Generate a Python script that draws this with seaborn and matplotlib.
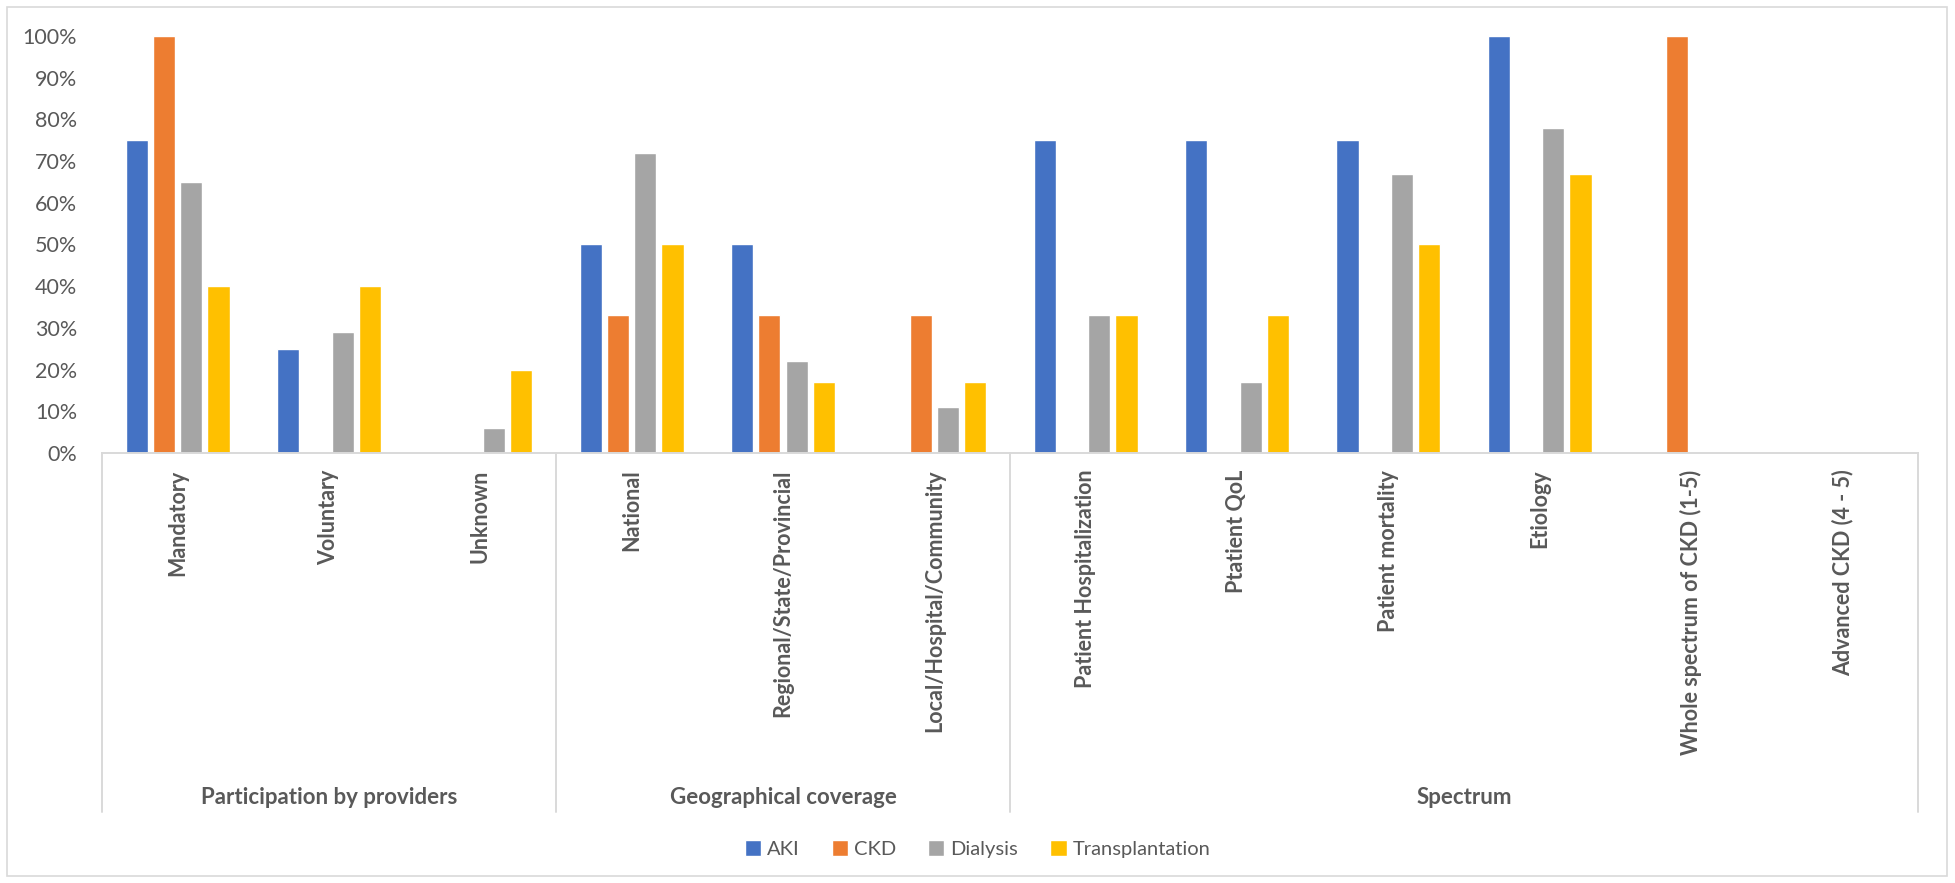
import matplotlib
matplotlib.use("Agg")
import matplotlib.pyplot as plt
import seaborn as sns
import pandas as pd
from matplotlib.ticker import PercentFormatter, MultipleLocator
from matplotlib.transforms import blended_transform_factory
from matplotlib.patches import Rectangle
from matplotlib.lines import Line2D

categories = ["Mandatory", "Voluntary", "Unknown",
              "National", "Regional/State/Provincial", "Local/Hospital/Community",
              "Patient Hospitalization", "Ptatient QoL", "Patient mortality",
              "Etiology", "Whole spectrum of CKD (1-5)", "Advanced CKD (4 - 5)"]
groups = ["Participation by providers", "Geographical coverage", "Spectrum"]
group_sizes = [3, 3, 6]
series = ["AKI", "CKD", "Dialysis", "Transplantation"]
aki = [75, 25, 0, 50, 50, 0, 75, 75, 75, 100, 0, 0]
ckd = [100, 0, 0, 33, 33, 33, 0, 0, 0, 0, 100, 0]
dialysis = [65, 29, 6, 72, 22, 11, 33, 17, 67, 78, 0, 0]
transplantation = [40, 40, 20, 50, 17, 17, 33, 33, 50, 67, 0, 0]
colors = ["#4472C4", "#ED7D31", "#A5A5A5", "#FFC000"]

rows = []
for s, vals in zip(series, [aki, ckd, dialysis, transplantation]):
    for c, v in zip(categories, vals):
        rows.append({"category": c, "series": s, "value": v})
df = pd.DataFrame(rows)

sns.set_theme(style="white")
plt.rcParams["font.family"] = ["Lato", "DejaVu Sans"]
txt = "#595959"

W, H = 1955, 883
fig = plt.figure(figsize=(W / 100, H / 100), dpi=100)
ax = fig.add_axes([102 / W, 1 - 453 / H, (1918 - 102) / W, (453 - 36) / H])

sns.barplot(data=df, x="category", y="value", hue="series", order=categories,
            hue_order=series, palette=colors, width=0.72, gap=0.19,
            saturation=1, ax=ax, legend=True)

ax.set_xlim(-0.5, len(categories) - 0.5)
ax.set_ylim(0, 100)
ax.yaxis.set_major_locator(MultipleLocator(10))
ax.yaxis.set_major_formatter(PercentFormatter(100, decimals=0))
ax.set_xlabel("")
ax.set_ylabel("")
for sp in ["top", "right", "left"]:
    ax.spines[sp].set_visible(False)
ax.spines["bottom"].set_color("#D9D9D9")
ax.spines["bottom"].set_linewidth(1.4)
ax.tick_params(axis="y", length=0, pad=18, labelsize=15.5, labelcolor=txt)
ax.tick_params(axis="x", length=0, pad=12, labelsize=15.5, labelcolor=txt)
ax.set_xticks(range(len(categories)))
ax.set_xticklabels(categories, rotation=90, va="top", ha="center", fontweight="bold")

# multi-level category axis: separators and group labels
tr = blended_transform_factory(ax.transData, fig.transFigure)
y_top = 1 - 453 / H
y_bot = 1 - 812 / H
bounds = [-0.5]
for n in group_sizes:
    bounds.append(bounds[-1] + n)
for b in bounds:
    fig.add_artist(Line2D([b, b], [y_top, y_bot], transform=tr,
                          color="#D9D9D9", lw=1.4))
for g, a, b in zip(groups, bounds[:-1], bounds[1:]):
    fig.text((a + b) / 2, 1 - 798 / H, g, transform=tr, ha="center",
             va="center", fontsize=16, fontweight="bold", color=txt)

# legend
handles, labels = ax.get_legend_handles_labels()
ax.get_legend().remove()
fig.legend(handles, labels, loc="center", bbox_to_anchor=(0.5, 1 - 849 / H),
           ncol=4, frameon=False, fontsize=14.5, handlelength=0.8,
           handleheight=0.8, handletextpad=0.3, columnspacing=1.6,
           labelcolor=txt)

# chart border
fig.add_artist(Rectangle((7 / W, 7 / H), (1947 - 7) / W, (876 - 7) / H,
                         transform=fig.transFigure, fill=False,
                         edgecolor="#D9D9D9", lw=1.2))

fig.savefig("out.png", dpi=100)
